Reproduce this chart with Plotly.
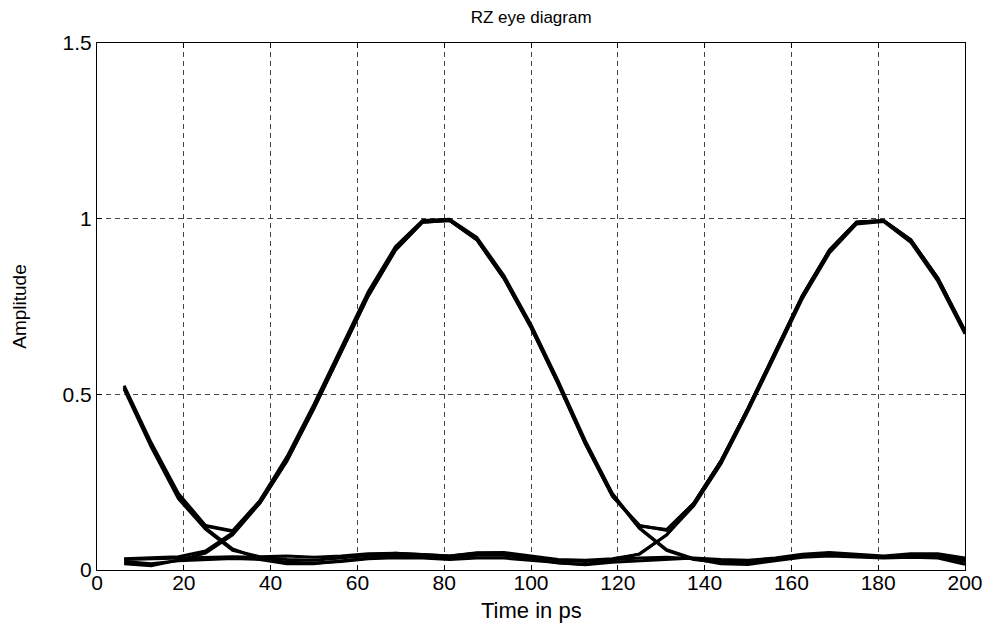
import plotly.graph_objects as go

# Sample instants (ps) of one two-bit window of the received RZ signal
times = [6.25, 12.5, 18.75, 25, 31.25, 37.5, 43.75, 50, 56.25, 62.5,
         68.75, 75, 81.25, 87.5, 93.75, 100, 106.25, 112.5, 118.75, 125,
         131.25, 137.5, 143.75, 150, 156.25, 162.5, 168.75, 175, 181.25,
         187.5, 193.75, 200]

# Traced waveforms, labelled by (previous bit, bit 1, bit 2)
trace_111 = [0.52, 0.355, 0.21, 0.125, 0.11, 0.19, 0.31, 0.46, 0.62, 0.78,
             0.91, 0.99, 0.995, 0.94, 0.83, 0.69, 0.53, 0.36, 0.21, 0.125,
             0.115, 0.19, 0.31, 0.46, 0.62, 0.78, 0.91, 0.99, 0.995, 0.94,
             0.83, 0.68]
trace_110 = [0.525, 0.362, 0.218, 0.127, 0.112, 0.197, 0.322, 0.472, 0.632, 0.792,
             0.92, 0.995, 0.998, 0.947, 0.838, 0.698, 0.538, 0.368, 0.218, 0.12,
             0.058, 0.032, 0.018, 0.016, 0.026, 0.036, 0.04, 0.037, 0.034, 0.036,
             0.034, 0.016]
trace_101 = [0.515, 0.35, 0.203, 0.116, 0.056, 0.038, 0.04, 0.036, 0.04, 0.046,
             0.048, 0.044, 0.04, 0.049, 0.05, 0.04, 0.03, 0.028, 0.032, 0.045,
             0.1, 0.183, 0.302, 0.452, 0.612, 0.772, 0.902, 0.985, 0.992, 0.933,
             0.822, 0.672]
trace_100 = [0.52, 0.355, 0.21, 0.12, 0.06, 0.032, 0.022, 0.02, 0.024, 0.032,
             0.035, 0.034, 0.03, 0.034, 0.034, 0.028, 0.02, 0.015, 0.022, 0.026,
             0.03, 0.034, 0.03, 0.028, 0.034, 0.045, 0.05, 0.046, 0.04, 0.046,
             0.046, 0.034]
trace_011 = [0.018, 0.012, 0.028, 0.048, 0.1, 0.19, 0.31, 0.46, 0.62, 0.78,
             0.91, 0.99, 0.995, 0.94, 0.83, 0.69, 0.53, 0.36, 0.21, 0.127,
             0.113, 0.19, 0.31, 0.46, 0.62, 0.78, 0.91, 0.99, 0.995, 0.94,
             0.83, 0.68]
trace_010 = [0.032, 0.036, 0.038, 0.054, 0.106, 0.196, 0.316, 0.466, 0.626, 0.786,
             0.916, 0.993, 0.997, 0.943, 0.834, 0.694, 0.534, 0.364, 0.214, 0.118,
             0.056, 0.03, 0.022, 0.022, 0.032, 0.042, 0.046, 0.042, 0.036, 0.042,
             0.04, 0.024]
trace_001 = [0.024, 0.018, 0.026, 0.03, 0.033, 0.03, 0.018, 0.018, 0.026, 0.036,
             0.042, 0.038, 0.034, 0.042, 0.042, 0.032, 0.02, 0.016, 0.028, 0.046,
             0.1, 0.19, 0.31, 0.46, 0.62, 0.78, 0.91, 0.99, 0.995, 0.94,
             0.83, 0.68]
trace_000 = [0.03, 0.032, 0.034, 0.036, 0.038, 0.036, 0.03, 0.028, 0.034, 0.042,
             0.048, 0.044, 0.04, 0.048, 0.048, 0.038, 0.028, 0.024, 0.03, 0.034,
             0.036, 0.032, 0.022, 0.02, 0.03, 0.04, 0.044, 0.04, 0.036, 0.044,
             0.042, 0.028]

traces = [trace_111, trace_110, trace_101, trace_100,
          trace_011, trace_010, trace_001, trace_000]

x_ticks = [0, 20, 40, 60, 80, 100, 120, 140, 160, 180, 200]
y_ticks = [0, 0.5, 1, 1.5]
y_tick_text = ["0", "0.5", "1", "1.5"]

FONT = "Liberation Sans, Arial, Helvetica, sans-serif"

fig = go.Figure()
for tr in traces:
    fig.add_trace(go.Scatter(
        x=times, y=tr, mode="lines",
        line=dict(color="black", width=3),
        showlegend=False, hoverinfo="skip",
    ))

axis_common = dict(
    showline=True, linecolor="black", linewidth=1, mirror="ticks",
    ticks="inside", ticklen=5, tickcolor="black",
    showgrid=True, gridcolor="#444444", gridwidth=1, griddash="5px,4px",
    zeroline=False, automargin=False,
    tickfont=dict(family=FONT, size=21, color="black"),
)

fig.update_xaxes(range=[0, 200], tickvals=x_ticks, ticklabelstandoff=-6,
                 **axis_common)
fig.update_yaxes(
    range=[0, 1.5], tickvals=y_ticks, ticktext=y_tick_text,
    title=dict(text="Amplitude", font=dict(family=FONT, size=19, color="black"),
               standoff=30),
    **axis_common,
)

# x-axis label placed just under the tick labels
fig.add_annotation(
    text="Time in ps", xref="paper", yref="paper", x=0.5, y=-0.077,
    xanchor="center", yanchor="middle", showarrow=False,
    font=dict(family=FONT, size=22, color="black"),
)

fig.update_layout(
    width=990, height=625,
    margin=dict(l=97, r=25, t=43, b=55),
    paper_bgcolor="white", plot_bgcolor="white",
    title=dict(text="RZ eye diagram", x=0.5365, xanchor="center", y=0.972,
               yanchor="middle",
               font=dict(family=FONT, size=17, color="black")),
)

fig.write_html("out.html")
